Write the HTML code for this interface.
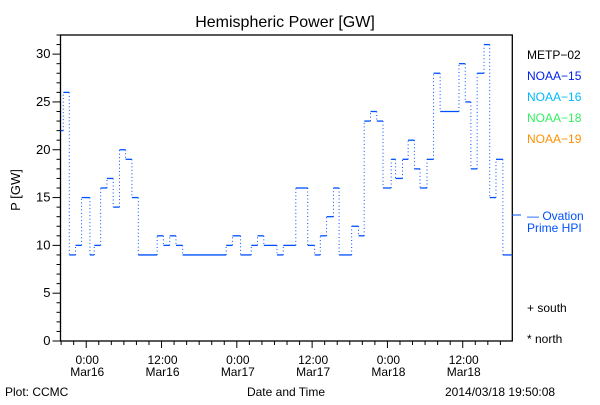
<!DOCTYPE html>
<html><head><meta charset="utf-8"><style>
body{margin:0;background:#fff}
svg text{font-family:"Liberation Sans",sans-serif;}
</style></head><body>
<svg id="chart" width="600" height="400" viewBox="0 0 600 400" xmlns="http://www.w3.org/2000/svg">
<rect width="600" height="400" fill="#fff"/>
<text x="285" y="27" font-size="16" text-anchor="middle">Hemispheric Power [GW]</text>
<text transform="translate(20,190) rotate(-90)" font-size="13" text-anchor="middle">P [GW]</text>
<text x="5" y="396" font-size="12">Plot: CCMC</text>
<text x="286" y="396" font-size="12" text-anchor="middle">Date and Time</text>
<text x="445" y="396" font-size="12">2014/03/18 19:50:08</text>
<g id="axes"></g>
<g id="series"></g>
<line x1="512" y1="215" x2="521" y2="215" stroke="#0050ff" stroke-width="1"/>
<g font-size="12">
<text x="527" y="59" fill="#000">METP−02</text>
<text x="527" y="80" fill="#0020e8">NOAA−15</text>
<text x="527" y="101" fill="#00b8ff">NOAA−16</text>
<text x="527" y="122" fill="#30f060">NOAA−18</text>
<text x="527" y="143" fill="#ff9000">NOAA−19</text>
<text x="527" y="220" fill="#0050ff"> — Ovation</text>
<text x="527" y="232" fill="#0050ff">Prime HPI</text>
<text x="527" y="312" fill="#000">+ south</text>
<text x="527" y="343" fill="#000">* north</text>
</g>
</svg>
<script>
const stepTimes = [-4.08,-3.66,-2.7,-1.7,-0.74,0.59,1.28,2.3,3.3,4.3,5.3,6.27,7.28,8.3,11.3,12.3,13.3,14.3,15.36,22.3,23.3,24.6,26.3,27.3,28.3,30.4,31.4,33.4,35.3,36.4,37.3,38.3,39.4,40.3,42.3,43.4,44.3,45.3,46.3,47.3,48.6,49.3,50.4,51.3,52.3,53.2,54.3,55.35,56.4,59.4,60.4,61.3,62.3,63.4,64.3,65.3,66.4];
const stepValues = [22,26,9,10,15,9,10,16,17,14,20,19,15,9,11,10,11,10,9,10,11,9,10,11,10,9,10,16,10,9,11,13,16,9,12,11,23,24,23,16,19,17,19,21,18,16,19,28,24,29,25,18,28,31,15,19,9];
const endTime = 67.9;
const yTicks = [0,5,10,15,20,25,30];
const xTickHours = [0,12,24,36,48,60];
const xTickTimes = ["0:00","12:00","0:00","12:00","0:00","12:00"];
const xTickDays = ["Mar16","Mar16","Mar17","Mar17","Mar18","Mar18"];

const L=60.5,R=512.3,T=35,B=341;
const tMin=-4.1,tMax=67.9,yMin=0,yMax=32;
const xs=t=>L+(t-tMin)/(tMax-tMin)*(R-L);
const ys=v=>B-(v-yMin)/(yMax-yMin)*(B-T);
const NS="http://www.w3.org/2000/svg";
function mk(tag,attrs,parent){const e=document.createElementNS(NS,tag);for(const k in attrs)e.setAttribute(k,attrs[k]);parent.appendChild(e);return e;}
const ax=document.getElementById('axes');
const frame=mk('rect',{x:L,y:T,width:R-L,height:B-T,fill:'none',stroke:'#000','stroke-width':1.3},ax);


for(let v=0;v<=yMax;v++){
  const major=v%5===0;
  const tk=mk('line',{x1:L-(major?8:4),x2:L,y1:ys(v),y2:ys(v),stroke:'#000'},ax);
  
  
}
yTicks.forEach(v=>{
  const t=mk('text',{x:L-10,y:ys(v)+4,'font-size':13,'text-anchor':'end'},ax);
  t.textContent=v;
  
  
});
for(let h=-4;h<=tMax;h+=2){
  const major=h%12===0;
  const tk=mk('line',{x1:xs(h),x2:xs(h),y1:B,y2:B+(major?7:4),stroke:'#000'},ax);
  
  
}
xTickHours.forEach((h,i)=>{
  const a=mk('text',{x:xs(h)+1,y:364,'font-size':12,'text-anchor':'middle'},ax);
  a.textContent=xTickTimes[i];
  
  
  const b=mk('text',{x:xs(h)+1,y:376,'font-size':12,'text-anchor':'middle'},ax);
  b.textContent=xTickDays[i];
  
  
});
const sg=document.getElementById('series');
for(let i=0;i<stepTimes.length;i++){
  const t1=i+1<stepTimes.length?stepTimes[i+1]:endTime;
  const h=mk('line',{x1:xs(stepTimes[i]),x2:xs(t1),y1:ys(stepValues[i]),y2:ys(stepValues[i]),stroke:'#0050ff','stroke-width':1.3},sg);
  
  
  if(i+1<stepTimes.length){
    const v=mk('line',{x1:xs(t1),x2:xs(t1),y1:ys(stepValues[i]),y2:ys(stepValues[i+1]),stroke:'#0050ff','stroke-width':1,'stroke-dasharray':'1 2.5'},sg);
    
    
  }
}
</script>
</body></html>
